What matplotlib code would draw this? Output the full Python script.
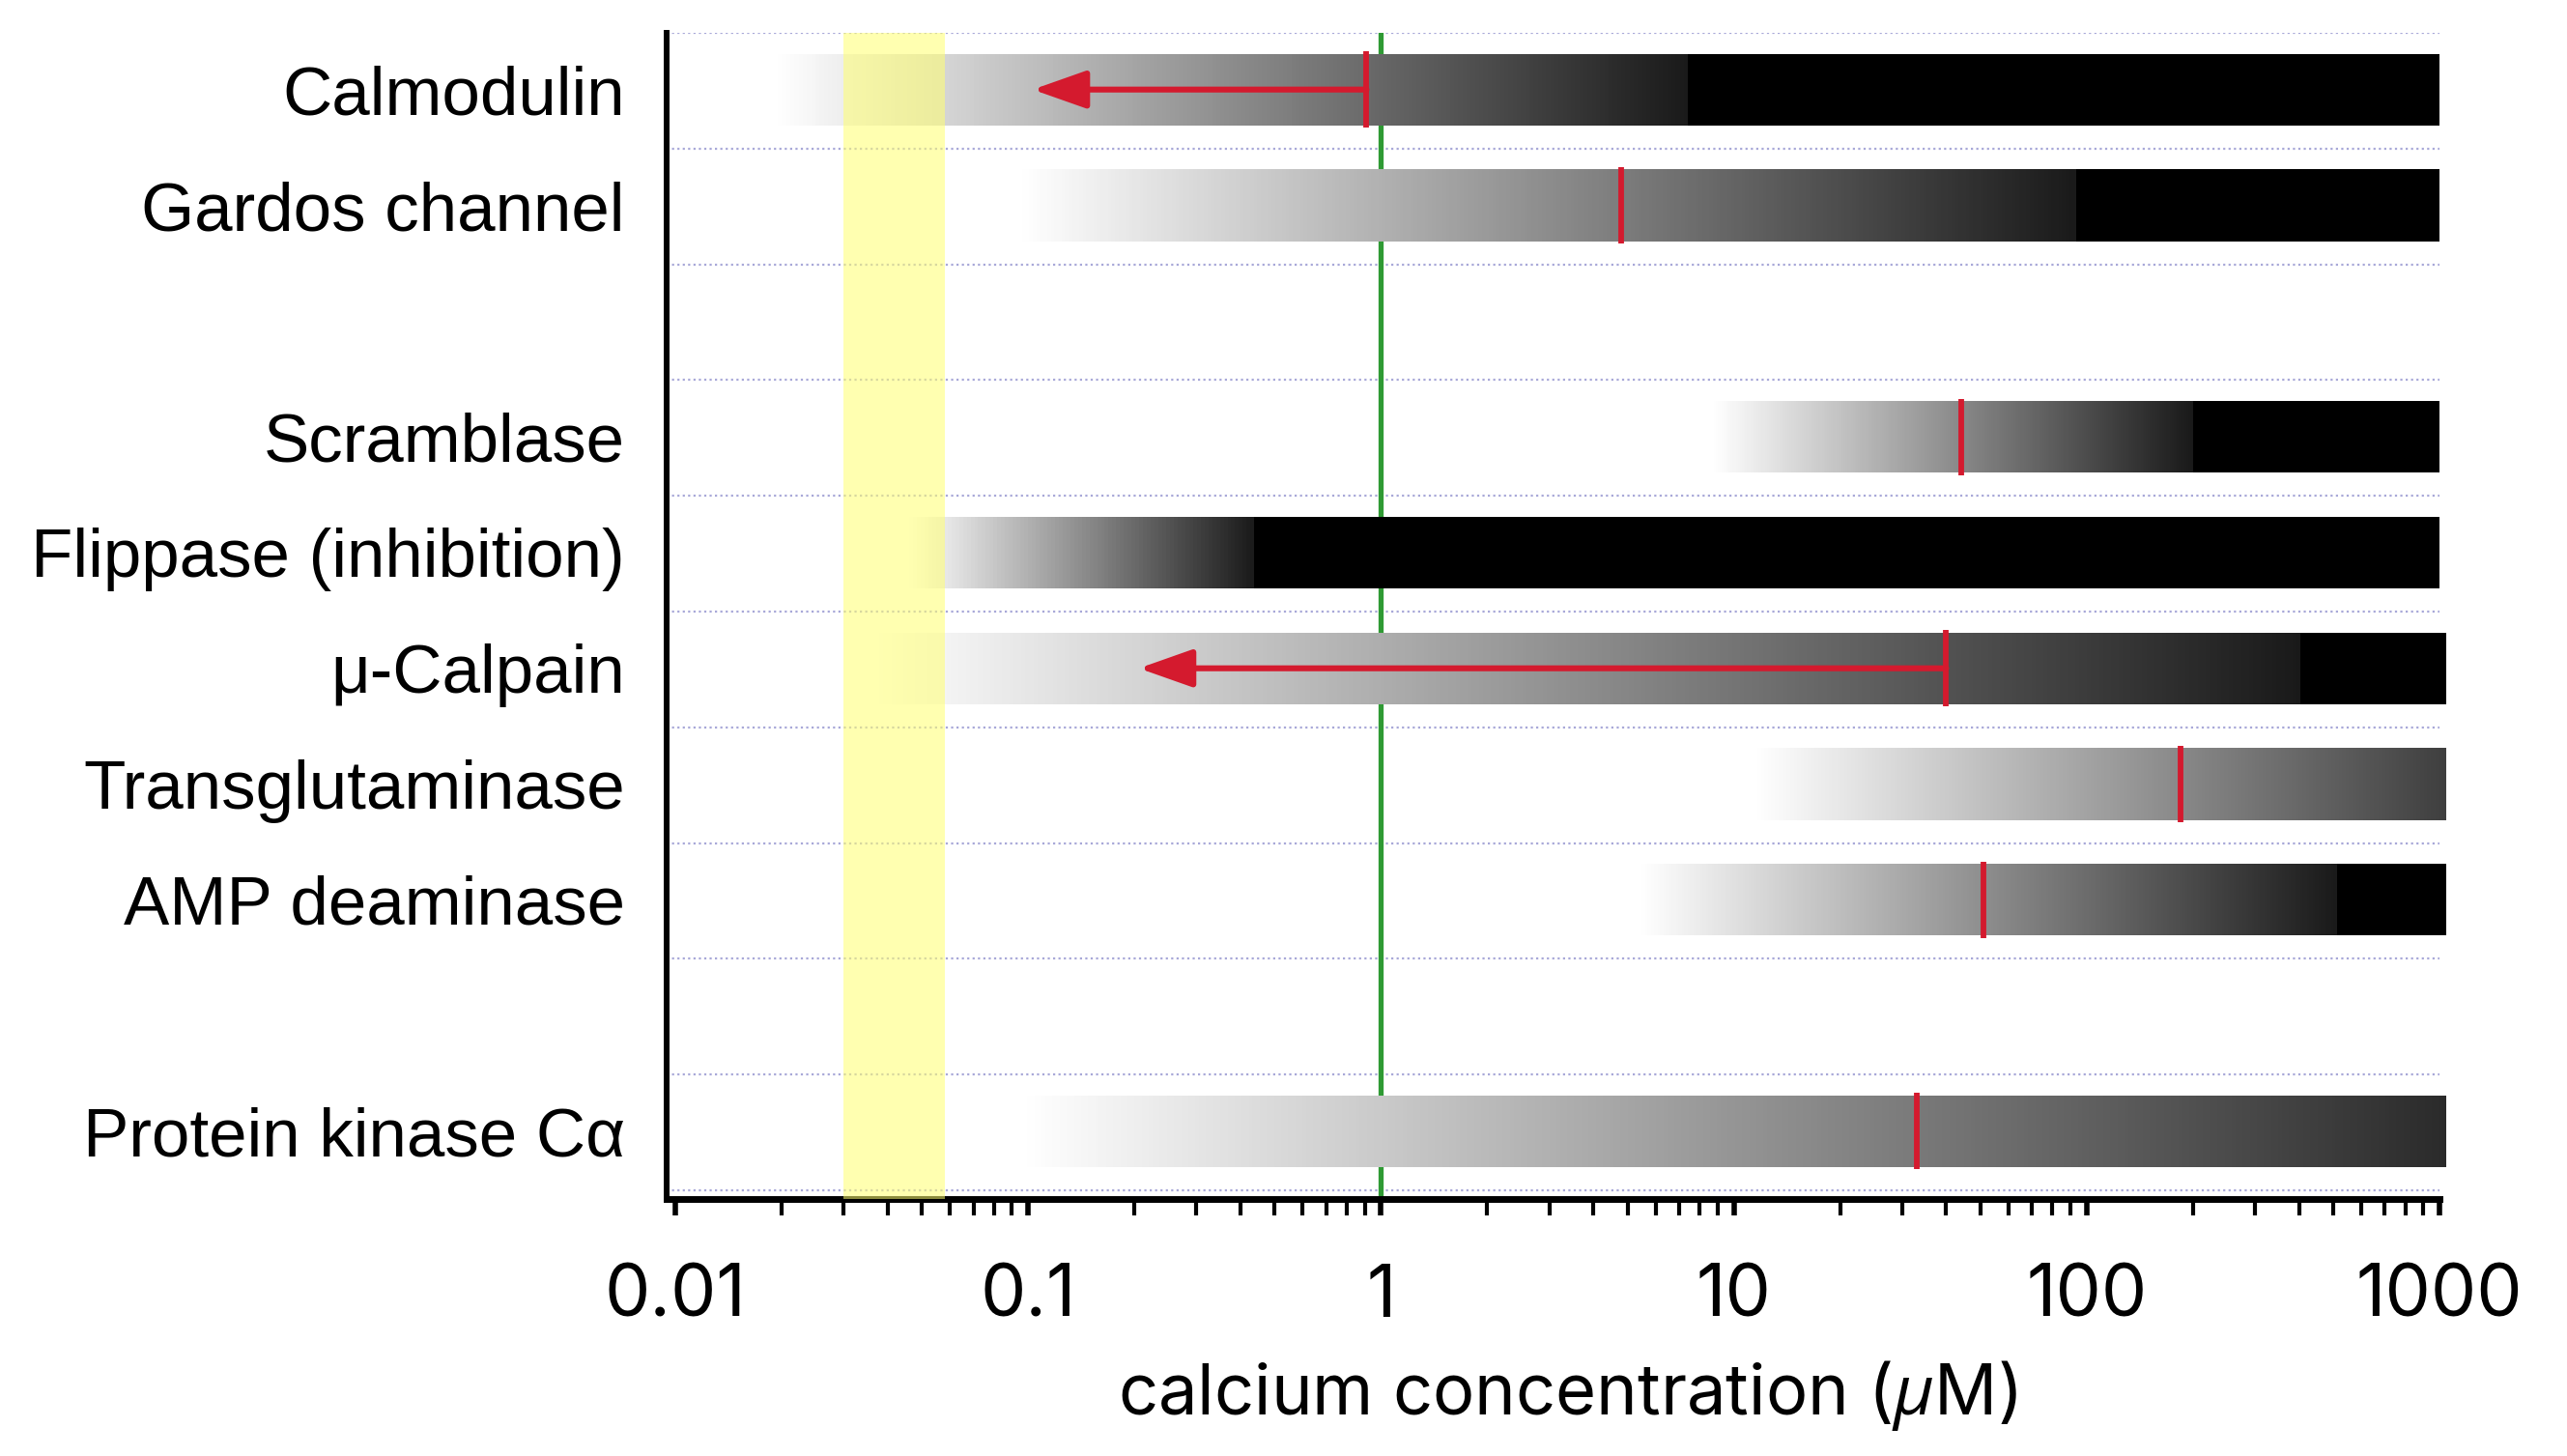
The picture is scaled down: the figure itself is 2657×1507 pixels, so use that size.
import numpy as np
import matplotlib
matplotlib.use("Agg")
import matplotlib.pyplot as plt

# rows (slot index from the top), labels and activity ranges in uM
labels = ["Calmodulin", "Gardos channel", "Scramblase", "Flippase (inhibition)",
          "\u03bc-Calpain", "Transglutaminase", "AMP deaminase", "Protein kinase C\u03b1"]
slots = [0, 1, 3, 4, 5, 6, 7, 9]
bar_start = [0.019, 0.094, 8.7, 0.046, 0.036, 11.4, 5.4, 0.095]
bar_black = [7.4, 94, 200, 0.44, 400, 2500, 515, 2200]
bar_end = [1000, 1000, 1000, 1000, 1045, 1045, 1045, 1045]
half_max = [0.91, 4.8, 44, None, 40, 185, 51, 33]
arrow_to = {0: 0.103, 4: 0.206}

resting = 1.0
yellow_band = (0.030, 0.058)
xticks = [0.01, 0.1, 1, 10, 100, 1000]
xticklabels = ["0.01", "0.1", "1", "10", "100", "1000"]

plt.rcParams["mathtext.fontset"] = "custom"
plt.rcParams["mathtext.rm"] = "Inter"
plt.rcParams["mathtext.it"] = "Open Sans:italic"

W, H = 2657, 1507
fig = plt.figure(figsize=(W / 100, H / 100), dpi=100)
ax = fig.add_axes([690 / W, 1 - 1241 / H, (2525 - 690) / W, (1241 - 34) / H])
ax.set_xscale("log")
ax.set_xlim(0.00945, 1000)
ax.set_ylim(10.075, 0)

# dotted row separators
ax.hlines(np.arange(0, 11), 0.00945, 1000, colors="#a8a8d8", linestyles=(0, (1, 1.5)),
          lw=1.6, zorder=1)

# resting level line
ax.axvline(resting, color="#2f9a34", lw=3.8, zorder=2)

bar_top, bar_bot = 0.18, 0.80
for i, s in enumerate(slots):
    xe = np.logspace(np.log10(bar_start[i]), np.log10(bar_end[i]), 400)
    xc = np.sqrt(xe[:-1] * xe[1:])
    frac = (np.log10(xc) - np.log10(bar_start[i])) / (np.log10(bar_black[i]) - np.log10(bar_start[i]))
    # ramp ends at a dark grey, then the bar turns solid black
    C = np.where(frac >= 1, 1.0, 0.9 * np.clip(frac, 0, 1))[None, :]
    ax.pcolormesh(xe, [s + bar_top, s + bar_bot], C, cmap="gray_r", vmin=0, vmax=1,
                  shading="flat", zorder=3, clip_on=False, edgecolors="none")

# yellow band on top of the bars
ax.axvspan(*yellow_band, color="#ffff70", alpha=0.55, lw=0, zorder=4)

for i, s in enumerate(slots):
    if half_max[i] is None:
        continue
    ax.vlines(half_max[i], s + bar_top - 0.02, s + bar_bot + 0.02, color="#d41a2e", lw=4.2, zorder=5)
    if i in arrow_to:
        ax.annotate("", xy=(arrow_to[i], s + 0.49), xytext=(half_max[i], s + 0.49),
                    arrowprops=dict(arrowstyle="-|>,head_length=1.7,head_width=0.6",
                                    color="#d41a2e", lw=4.4, mutation_scale=20,
                                    shrinkA=0, shrinkB=0), zorder=6)

ax.set_yticks([s + 0.49 for s in slots])
ax.set_yticklabels(labels, fontsize=51, fontfamily="Liberation Sans")
ax.tick_params(axis="y", length=0, pad=31)

ax.set_xticks(xticks)
ax.set_xticklabels(xticklabels, fontsize=54, fontfamily="Inter")
ax.tick_params(axis="x", which="major", direction="out", length=12, width=4, pad=36)
ax.tick_params(axis="x", which="minor", direction="out", length=12, width=3)
ax.set_xlabel("calcium concentration ($\\mathit{\\mu}$M)", fontsize=52,
              fontfamily="Inter", labelpad=20)
ax.xaxis.label.set_x(0.508)

for side in ["top", "right"]:
    ax.spines[side].set_visible(False)
ax.spines["left"].set_linewidth(4.3)
ax.spines["bottom"].set_linewidth(5)

fig.savefig("out.png", dpi=100, facecolor="white")
